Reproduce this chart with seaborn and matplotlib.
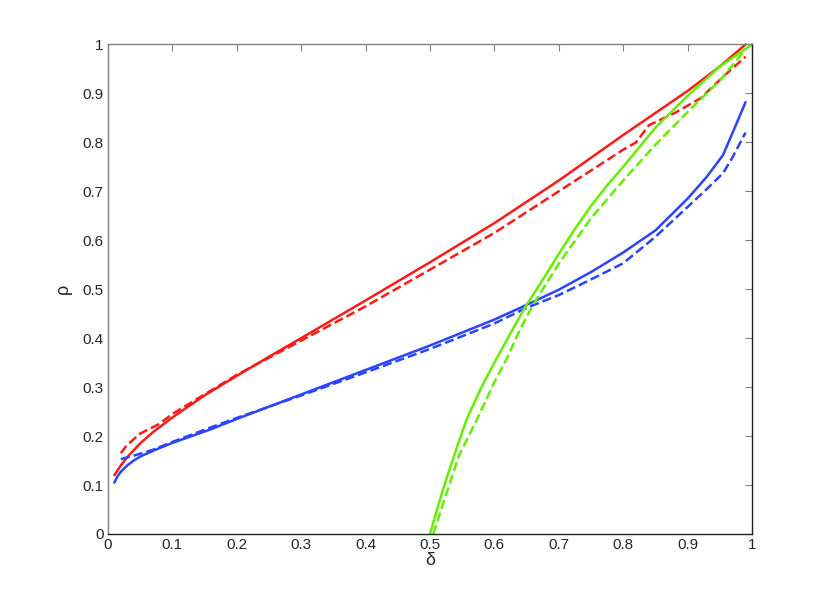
import matplotlib
matplotlib.use("Agg")
import matplotlib.pyplot as plt
import seaborn as sns

# --- data ---
red_solid_d = [0.01, 0.02, 0.03, 0.05, 0.07, 0.1, 0.15, 0.2, 0.25, 0.3, 0.4, 0.5, 0.6, 0.7, 0.8, 0.9, 0.95, 0.99]
red_solid_r = [0.12, 0.14, 0.157, 0.185, 0.208, 0.238, 0.283, 0.323, 0.362, 0.40, 0.477, 0.555, 0.635, 0.722, 0.815, 0.905, 0.955, 1.0]

red_dash_d = [0.02, 0.03, 0.05, 0.08, 0.1, 0.15, 0.2, 0.3, 0.4, 0.5, 0.6, 0.7, 0.8, 0.82, 0.84, 0.88, 0.92, 0.96, 0.99]
red_dash_r = [0.165, 0.182, 0.205, 0.225, 0.245, 0.285, 0.325, 0.395, 0.465, 0.54, 0.615, 0.70, 0.785, 0.80, 0.835, 0.86, 0.89, 0.94, 0.975]

blue_solid_d = [0.01, 0.015, 0.02, 0.03, 0.04, 0.05, 0.07, 0.1, 0.13, 0.16, 0.2, 0.25, 0.3, 0.4, 0.5, 0.6, 0.65, 0.7, 0.75, 0.8, 0.85, 0.9, 0.93, 0.955, 0.97, 0.99]
blue_solid_r = [0.105, 0.118, 0.127, 0.14, 0.15, 0.158, 0.17, 0.186, 0.2, 0.214, 0.235, 0.26, 0.285, 0.335, 0.385, 0.438, 0.468, 0.499, 0.535, 0.575, 0.62, 0.685, 0.73, 0.774, 0.82, 0.882]

blue_dash_d = [0.02, 0.04, 0.07, 0.1, 0.15, 0.2, 0.25, 0.3, 0.4, 0.5, 0.6, 0.65, 0.7, 0.75, 0.8, 0.85, 0.9, 0.93, 0.955, 0.97, 0.99]
blue_dash_r = [0.153, 0.16, 0.172, 0.188, 0.213, 0.237, 0.26, 0.283, 0.33, 0.378, 0.43, 0.462, 0.488, 0.52, 0.553, 0.607, 0.668, 0.705, 0.737, 0.77, 0.82]

green_solid_d = [0.5, 0.52, 0.54, 0.557, 0.58, 0.6, 0.625, 0.65, 0.675, 0.7, 0.725, 0.75, 0.775, 0.8, 0.85, 0.9, 0.95, 1.0]
green_solid_r = [0.0, 0.09, 0.17, 0.234, 0.30, 0.35, 0.41, 0.468, 0.519, 0.572, 0.623, 0.67, 0.712, 0.75, 0.83, 0.895, 0.955, 1.0]

green_dash_d = [0.505, 0.525, 0.545, 0.573, 0.6, 0.62, 0.64, 0.66, 0.7, 0.75, 0.8, 0.85, 0.9, 0.95, 0.99]
green_dash_r = [0.0, 0.08, 0.16, 0.234, 0.31, 0.36, 0.418, 0.468, 0.552, 0.645, 0.722, 0.795, 0.862, 0.926, 0.99]

tick_vals = [0, 0.1, 0.2, 0.3, 0.4, 0.5, 0.6, 0.7, 0.8, 0.9, 1]
tick_labels = ["0", "0.1", "0.2", "0.3", "0.4", "0.5", "0.6", "0.7", "0.8", "0.9", "1"]

RED = "#ff1a1a"
BLUE = "#2a44ff"
GREEN = "#66ee00"

sns.set_style("white")
plt.rcParams["font.family"] = ["Liberation Sans", "DejaVu Sans"]

fig = plt.figure(figsize=(8.3, 6.01), dpi=100)
ax = fig.add_axes([0.13, 0.1115, 0.776, 0.8145])

series = [
    (red_solid_d, red_solid_r, RED, "-"),
    (red_dash_d, red_dash_r, RED, "--"),
    (blue_solid_d, blue_solid_r, BLUE, "-"),
    (blue_dash_d, blue_dash_r, BLUE, "--"),
    (green_solid_d, green_solid_r, GREEN, "-"),
    (green_dash_d, green_dash_r, GREEN, "--"),
]
for d, r, c, ls in series:
    sns.lineplot(x=d, y=r, ax=ax, color=c, linestyle=ls, linewidth=1.8,
                 sort=False, estimator=None, clip_on=False)

ax.set_xlim(0, 1)
ax.set_ylim(0, 1)
ax.set_xticks(tick_vals)
ax.set_xticklabels(tick_labels)
ax.set_yticks(tick_vals)
ax.set_yticklabels(tick_labels)
ax.tick_params(direction="in", length=5, width=0.8, labelsize=11,
               top=True, right=True, color="#808080", pad=3)

for side in ["left", "top"]:
    ax.spines[side].set_color("#808080")
for side in ["bottom", "right"]:
    ax.spines[side].set_color("#202020")
for sp in ax.spines.values():
    sp.set_linewidth(1.0)
    sp.set_visible(True)

ax.set_xlabel("δ", fontsize=13, labelpad=0)
ax.set_ylabel("ρ", fontsize=13, labelpad=8)

fig.savefig("out.png", dpi=100)
